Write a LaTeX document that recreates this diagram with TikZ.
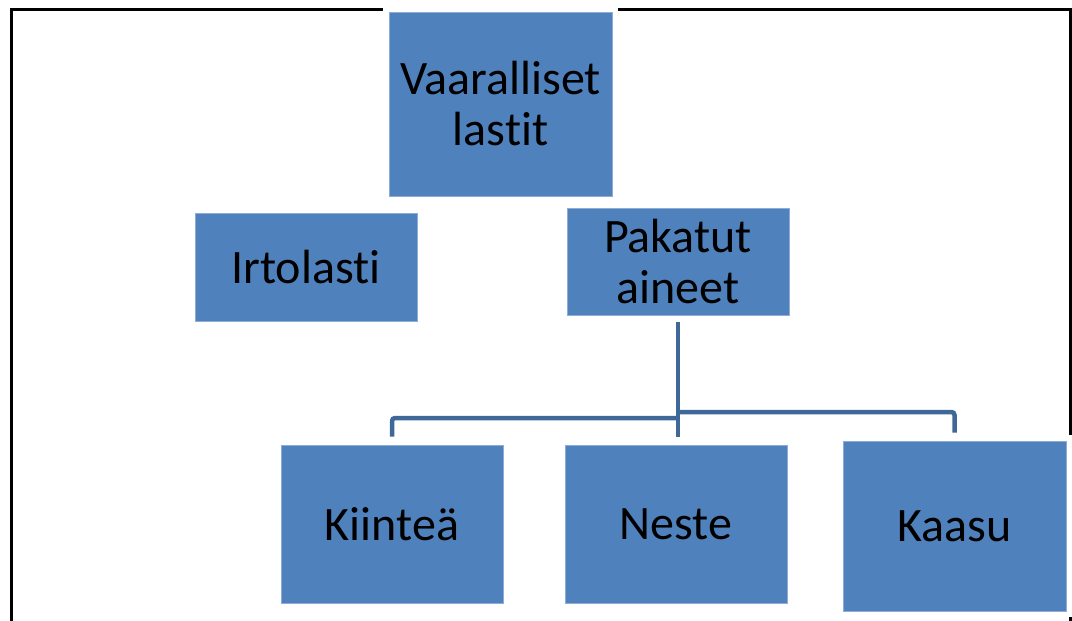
\documentclass[tikz,border=0pt]{standalone}
\usepackage{fontspec}
\setmainfont[Ligatures={NoCommon}]{Carlito}
\usetikzlibrary{calc}
\definecolor{boxblue}{HTML}{4F81BD}
\definecolor{boxedge}{HTML}{8FACD6}
\definecolor{linkblue}{HTML}{3F6898}

\begin{document}
\begin{tikzpicture}[
    x=1pt, y=-1pt,
    cargo/.style={draw=boxedge, line width=0.8pt, fill=boxblue, inner sep=0pt,
        align=center, font=\fontsize{48}{51}\selectfont,
        preaction={draw=white, line width=12pt}},
    link/.style={draw=linkblue, line width=4.5pt, rounded corners=3pt},
]
\useasboundingbox (0, 0) rectangle (1072, 621);

% Frame
\draw[line width=3pt] (11, 640) -- (11, 9) -- (1070, 9) -- (1070, 640);

% Boxes
\node[cargo, minimum width=223pt, minimum height=184pt] (vaar) at (500.5, 104) {Vaaralliset\\lastit};
\node[cargo, minimum width=222pt, minimum height=108pt] (irto) at (306, 267) {Irtolasti};
\node[cargo, minimum width=222pt, minimum height=107pt] (paka) at (678, 261.5) {Pakatut\\aineet};

\node[cargo, minimum width=222pt, minimum height=158pt] (kiin) at (392, 524) {Kiinteä};
\node[cargo, minimum width=222pt, minimum height=158pt] (nest) at (676, 524) {Neste};
\node[cargo, minimum width=223pt, minimum height=170pt] (kaas) at (954.5, 526) {Kaasu};

% Branch points
\coordinate (jleft) at (678, 418);
\coordinate (jright) at (678, 412);

% Connectors
\draw[link, shorten <=7pt, shorten >=8pt] (paka.south) -- (paka.south |- nest.north);
\draw[link, shorten >=8pt] (jleft) -| (kiin.north);
\draw[link, shorten >=8pt] (jright) -| (kaas.north);

\end{tikzpicture}
\end{document}
